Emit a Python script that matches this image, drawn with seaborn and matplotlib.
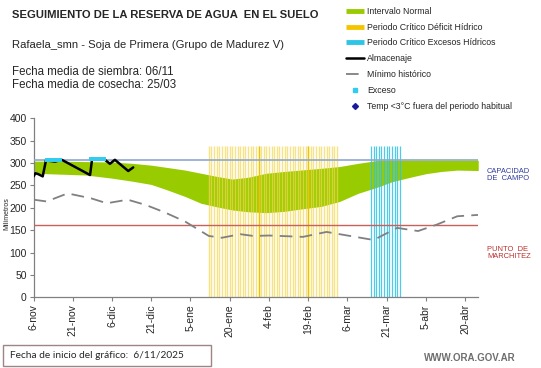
import matplotlib
matplotlib.use("Agg")
import matplotlib.pyplot as plt
import seaborn as sns
from matplotlib.lines import Line2D
from matplotlib.patches import Rectangle

# days counted from 6-nov
tick_days = [0, 15, 30, 45, 60, 75, 90, 105, 120, 135, 150, 165]
tick_labels = ['6-nov', '21-nov', '6-dic', '21-dic', '5-ene', '20-ene',
               '4-feb', '19-feb', '6-mar', '21-mar', '5-abr', '20-abr']

# green "Intervalo Normal" band
band_days = [0, 10, 20, 30, 38, 45, 51, 58, 64, 70, 76, 82, 89, 96, 102, 110,
             117, 124, 132, 137, 144, 150, 156, 162, 170]
band_upper = [304, 304, 303, 302, 299, 295, 290, 284, 277, 270, 264, 268, 277,
              281, 284, 288, 292, 299, 306, 306, 306, 306, 306, 306, 306]
band_lower = [277, 275, 273, 266, 259, 252, 240, 225, 210, 202, 195, 191, 189,
              192, 197, 203, 214, 232, 247, 258, 268, 276, 281, 284, 283]

# Minimo historico
min_days = [0, 5, 13, 22, 28, 36, 43, 50, 58, 67, 72, 79, 84, 90, 103, 112,
            121, 130, 139, 147, 154, 162, 170]
min_vals = [218, 214, 232, 221, 210, 218, 206, 190, 169, 137, 133, 141, 137,
            138, 135, 146, 137, 128, 155, 148, 162, 181, 184]

# Almacenaje
alm_days = [0, 0.7, 1.8, 3.5, 4.8, 5.6, 8.2, 10.8, 21.6, 22.4, 27.3, 29.2,
            31.1, 36.2, 38.1]
alm_vals = [270, 277, 275, 270, 307, 305, 303, 307, 273, 309, 307, 298, 307,
            282, 290]

# Exceso markers
exc_days = [5, 6, 7, 8, 9, 10, 22, 23, 24, 25, 26, 27]
exc_vals = [307, 307, 307, 307, 307, 307, 308, 308, 308, 308, 308, 308]

# critical periods (one line per day)
deficit_days = [67, 68, 69, 70, 71, 72, 73, 74, 75, 76, 77, 78, 79, 80, 81, 82,
                83, 84, 85, 86, 87, 88, 89, 90, 91, 92, 93, 94, 95, 96, 97, 98,
                99, 100, 101, 102, 103, 104, 105, 106, 107, 108, 109, 110, 111,
                112, 113, 114, 115, 116]
deficit_strong = [86, 105]
exceso_days = [129, 130, 131, 132, 133, 134, 135, 136, 137, 138, 139, 140]
period_top = 338

capacidad = 307
marchitez = 162

sns.set_style("white")
plt.rcParams['font.family'] = ['Liberation Sans', 'DejaVu Sans']

fig = plt.figure(figsize=(5.41, 3.68), dpi=100)
ax = fig.add_axes([0.062, 0.192, 0.822, 0.487])

ax.fill_between(band_days, band_lower, band_upper, color='#99CC00', lw=0, zorder=1)
ax.vlines(deficit_days, 0, period_top, color='#F3D850', lw=1.0, alpha=0.7, zorder=2)
ax.vlines(deficit_strong, 0, period_top, color='#EEC300', lw=1.0, zorder=2)
ax.vlines(exceso_days, 0, period_top, color='#2EC4E6', lw=0.9, alpha=0.85, zorder=2)
ax.axhline(capacidad, color='#8FA8D0', lw=1.2, zorder=3)
ax.axhline(marchitez, color='#C8605C', lw=1.0, zorder=3)

sns.lineplot(x=min_days, y=min_vals, ax=ax, color='#808080', lw=1.3,
             zorder=4).lines[-1].set_dashes([7, 4])
sns.lineplot(x=alm_days, y=alm_vals, ax=ax, color='black', lw=1.8,
             sort=False, zorder=5)
sns.scatterplot(x=exc_days, y=exc_vals, ax=ax, color='#33CCEE', marker='s',
                s=5, linewidth=0, zorder=6)

ax.set_xlim(0, 170)
ax.set_ylim(0, 400)
ax.set_yticks(range(0, 401, 50))
ax.set_xticks(tick_days)
ax.set_xticklabels(tick_labels, rotation=90)
ax.tick_params(axis='both', labelsize=7.5, length=3, width=0.8, color='#808080',
               direction='out', pad=2)
ax.tick_params(axis='x', bottom=True)
ax.tick_params(axis='y', left=True)
for s in ['top', 'right']:
    ax.spines[s].set_visible(False)
for s in ['left', 'bottom']:
    ax.spines[s].set_color('#808080')
    ax.spines[s].set_linewidth(0.9)
ax.set_ylabel('Milímetros', fontsize=5, labelpad=1)
ax.yaxis.set_label_coords(-0.052, 0.47)

# texts
fig.text(12 / 541, 1 - 15 / 368, 'SEGUIMIENTO DE LA RESERVA DE AGUA  EN EL SUELO',
         fontsize=8.1, fontweight='bold', va='center')
fig.text(12 / 541, 1 - 45 / 368, 'Rafaela_smn - Soja de Primera (Grupo de Madurez V)',
         fontsize=8.1, va='center')
fig.text(12 / 541, 1 - 72 / 368, 'Fecha media de siembra: 06/11', fontsize=8.3, va='center')
fig.text(12 / 541, 1 - 85 / 368, 'Fecha media de cosecha: 25/03', fontsize=8.3, va='center')

fig.text(487 / 541, 1 - 175 / 368, 'CAPACIDAD\nDE  CAMPO', fontsize=5.4,
         color='#2F3C9E', va='center', linespacing=1.1)
fig.text(487 / 541, 1 - 253 / 368, 'PUNTO  DE\nMARCHITEZ', fontsize=5.4,
         color='#B8302C', va='center', linespacing=1.1)

# legend
handles = [
    Line2D([], [], color='#99CC00', lw=3.5, solid_capstyle='butt'),
    Line2D([], [], color='#F5C400', lw=3.5, solid_capstyle='butt'),
    Line2D([], [], color='#2EC4E6', lw=3.5, solid_capstyle='butt'),
    Line2D([], [], color='black', lw=1.8),
    Line2D([], [], color='#808080', lw=1.3, dashes=[7, 4]),
    Line2D([], [], color='#33CCEE', lw=0, marker='s', markersize=2.2),
    Line2D([], [], color='#1A1A9E', lw=0, marker='D', markersize=3),
]
labels = ['Intervalo Normal', 'Periodo Crítico Déficit Hídrico',
          'Periodo Crítico Excesos Hídricos', 'Almacenaje', 'Mínimo histórico',
          'Exceso', 'Temp <3°C fuera del periodo habitual']
fig.legend(handles, labels, loc='upper left',
           bbox_to_anchor=(344 / 541, 1 - 5 / 368), frameon=False, fontsize=6.3,
           handlelength=2.1, handletextpad=0.3, labelspacing=0.78,
           borderpad=0.2, borderaxespad=0)

# bottom box
fig.patches.append(Rectangle((3 / 541, 1 - 366 / 368), 208 / 541, 21 / 368,
                             transform=fig.transFigure, fill=False,
                             edgecolor='#9E8585', lw=1.0))
fig.text(10 / 541, 1 - 355.5 / 368, 'Fecha de inicio del gráfico:  6/11/2025',
         fontsize=7.3, va='center', family=['Lato', 'DejaVu Sans'])
fig.text(516 / 541, 1 - 358 / 368, 'WWW.ORA.GOV.AR', fontsize=7,
         color='#6E6E6E', fontweight='bold', ha='right', va='center')

fig.savefig('out.png', dpi=100)
